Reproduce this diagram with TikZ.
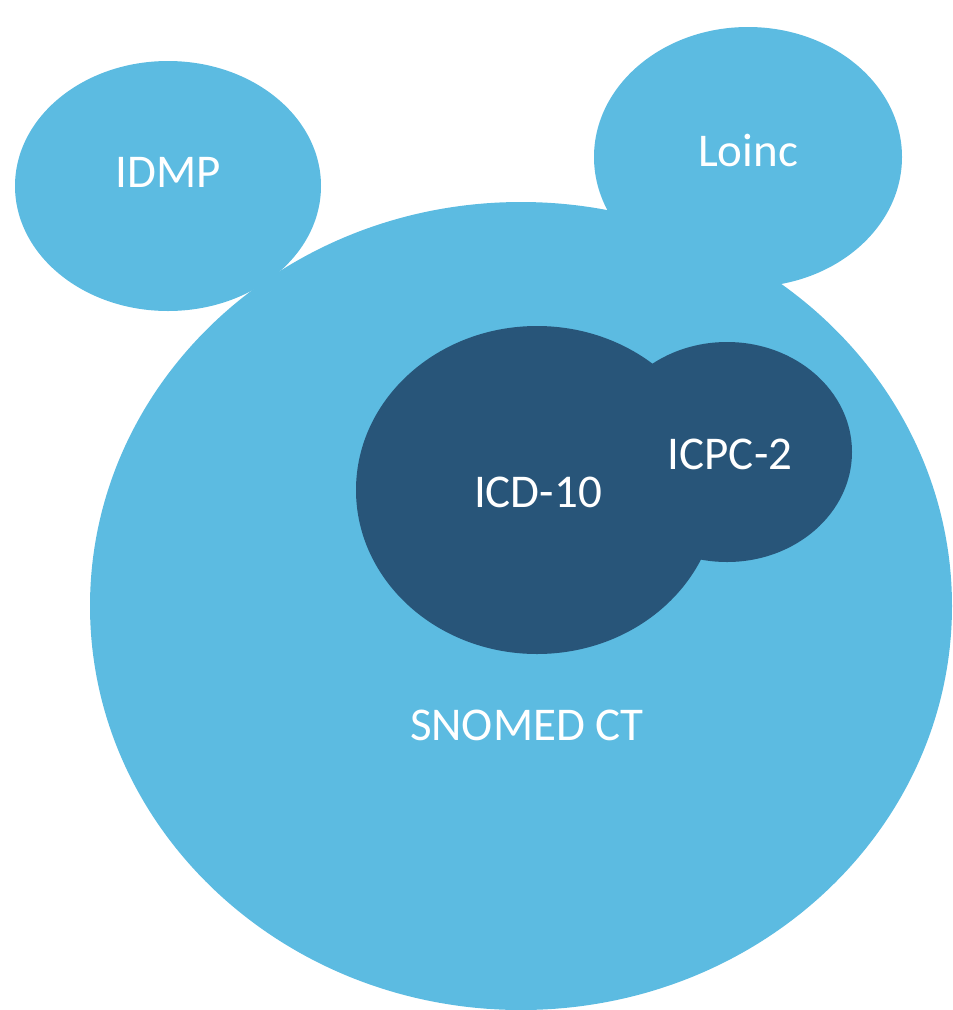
\documentclass[tikz,border=0pt]{standalone}
\usepackage{fontspec}
\setmainfont{Carlito}
\definecolor{lightblue}{HTML}{5CBBE1}
\definecolor{darkblue}{HTML}{285579}
\begin{document}
\begin{tikzpicture}[x=1pt,y=-1pt,
  blob/.style={fill=lightblue,draw=none},
  darkblob/.style={fill=darkblue,draw=none},
  lbl/.style={text=white,font=\fontsize{47}{56}\selectfont,anchor=base,inner sep=0pt}]
\useasboundingbox (0,0) rectangle (953,1010);
\fill[blob] (521,606) ellipse [x radius=431, y radius=404];
\fill[blob] (168,186) ellipse [x radius=153, y radius=125];
\fill[blob] (748,157) ellipse [x radius=154, y radius=130];
\fill[darkblob] (537,490) ellipse [x radius=181, y radius=164];
\fill[darkblob] (727,452) ellipse [x radius=125, y radius=110];
\node[lbl] (idmp) at (168,187) {IDMP};
\node[lbl] (loinc) at (748,166) {Loinc};
\node[lbl] (icd) at (538,507) {ICD-10};
\node[lbl] (icpc) at (730,469) {ICPC-2};
\node[lbl] (snomed) at (527,740) {SNOMED CT};
\end{tikzpicture}
\end{document}
